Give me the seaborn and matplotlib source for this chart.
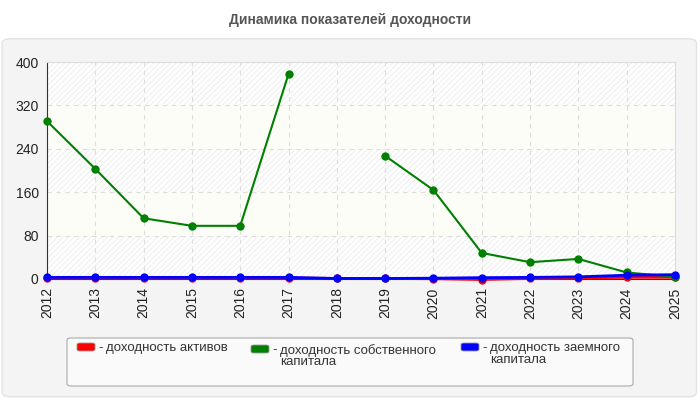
import numpy as np
import pandas as pd
import matplotlib
matplotlib.use('Agg')
import matplotlib.pyplot as plt
from matplotlib.patches import FancyBboxPatch
import seaborn as sns

# данные
years = list(range(2012, 2026))
roa = [2, 2, 2, 2, 2, 2, 1, 1, 0.5, -1, 1, 2, 3, 3]
roe = [291, 203, 112, 98, 98, 378, np.nan, 227, 164, 48, 31, 37, 12, 4]
rod = [3, 3, 3, 3, 3, 3, 1, 1, 1.5, 2.5, 3, 4, 7, 8]
labels = ['доходность активов',
          'доходность собственного\nкапитала',
          'доходность заемного\nкапитала']
colors = ['#ff0000', '#008000', '#0000ff']
y_ticks = [0, 80, 160, 240, 320, 400]

sns.set_style('white')
plt.rcParams['font.family'] = ['Liberation Sans', 'DejaVu Sans']
plt.rcParams['hatch.linewidth'] = 0.6

fig = plt.figure(figsize=(7, 4), dpi=100)
fig.patch.set_facecolor('white')

# фон-панель
panel = FancyBboxPatch((0.003, 0.008), 0.992, 0.895, boxstyle='round,pad=0,rounding_size=0.012',
                       transform=fig.transFigure, facecolor='#f4f4f4', edgecolor='#e2e2e2',
                       linewidth=1, zorder=-10)
fig.patches.append(panel)

fig.text(0.5, 0.95, 'Динамика показателей доходности', ha='center', va='center',
         fontsize=10, fontweight='bold', color='#555555')

ax = fig.add_axes([47 / 700, 121 / 400, 628 / 700, 217 / 400])
ax.set_facecolor('white')

# полосы фона
for i, (lo, hi) in enumerate(zip(y_ticks[:-1], y_ticks[1:])):
    if i % 2 == 0:
        ax.axhspan(lo, hi, facecolor='white', hatch='//////', edgecolor='#ebebeb', linewidth=0, zorder=0)
    else:
        ax.axhspan(lo, hi, facecolor='#fdfdf7', linewidth=0, zorder=0)

df = pd.DataFrame({'year': years, 'roa': roa, 'roe': roe, 'rod': rod})

sns.lineplot(data=df, x='year', y='roa', color=colors[0], marker='o', markersize=6,
             markeredgewidth=0, linewidth=2, ax=ax, zorder=3, clip_on=False)

# разрыв в данных 2018
seg = df['roe'].isna().cumsum()
for s, part in df[df['roe'].notna()].groupby(seg[df['roe'].notna()]):
    sns.lineplot(data=part, x='year', y='roe', color=colors[1], marker='o', markersize=6,
                 markeredgewidth=0, linewidth=1.5, ax=ax, zorder=4, clip_on=False)

sns.lineplot(data=df, x='year', y='rod', color=colors[2], marker='o', markersize=6,
             markeredgewidth=0, linewidth=2, ax=ax, zorder=5, clip_on=False)

ax.set_xlim(2012, 2025)
ax.set_ylim(0, 400)
ax.set_xticks(years)
ax.set_xticklabels([str(y) for y in years], rotation=90)
ax.set_yticks(y_ticks)
ax.set_xlabel('')
ax.set_ylabel('')
ax.grid(True, linestyle=(0, (4, 4)), color='#dddddd', linewidth=0.8)
for line in ax.get_xgridlines() + ax.get_ygridlines():
    line.set_zorder(1)
ax.tick_params(axis='both', labelsize=10, colors='#222222', length=4, width=0.8, direction='out', pad=2)
for side in ['top', 'right']:
    ax.spines[side].set_color('#dddddd')
    ax.spines[side].set_linewidth(0.8)
for side in ['left', 'bottom']:
    ax.spines[side].set_color('#333333')
    ax.spines[side].set_linewidth(0.8)
for sp in ax.spines.values():
    sp.set_zorder(2.5)

# легенда
box = FancyBboxPatch((67 / 700, 14 / 400), 566 / 700, 48 / 400,
                     boxstyle='round,pad=0,rounding_size=0.006', transform=fig.transFigure,
                     facecolor='#fafafa', edgecolor='#aaaaaa', linewidth=0.8, zorder=-5)
fig.patches.append(box)
xs = [77, 251, 461]
ys = [343, 345, 343]
for x, y, lab, c in zip(xs, ys, labels, colors):
    fig.patches.append(FancyBboxPatch((x / 700, (400 - y - 8) / 400), 18 / 700, 8 / 400,
                                      boxstyle='round,pad=0,rounding_size=0.004',
                                      transform=fig.transFigure, facecolor=c,
                                      edgecolor='#999999', linewidth=0.6))
    fig.text((x + 21) / 700, (400 - y + 1) / 400, '-', ha='left', va='top', fontsize=9.5, color='#333333')
    fig.text((x + 29) / 700, (400 - y + 1) / 400, lab, ha='left', va='top', fontsize=9.5,
             color='#333333', linespacing=0.95)

fig.savefig('out.png', dpi=100)
